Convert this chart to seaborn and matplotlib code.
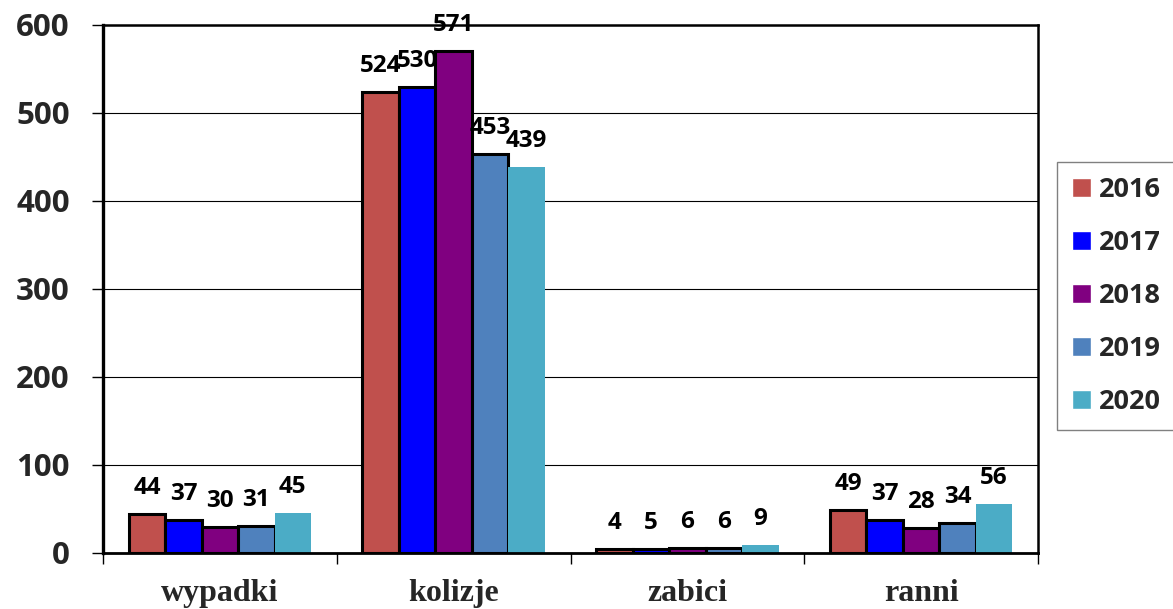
import matplotlib
matplotlib.use("Agg")
import matplotlib.pyplot as plt
import seaborn as sns
import pandas as pd

categories = ["wypadki", "kolizje", "zabici", "ranni"]
years = ["2016", "2017", "2018", "2019", "2020"]
v2016 = [44, 524, 4, 49]
v2017 = [37, 530, 5, 37]
v2018 = [30, 571, 6, 28]
v2019 = [31, 453, 6, 34]
v2020 = [45, 439, 9, 56]
yticks = [0, 100, 200, 300, 400, 500, 600]

colors = ["#C0504D", "#0000FF", "#800080", "#4F81BD", "#4BACC6"]

series = [v2016, v2017, v2018, v2019, v2020]
rows = []
for y, vals in zip(years, series):
    for c, v in zip(categories, vals):
        rows.append({"cat": c, "year": y, "val": v})
df = pd.DataFrame(rows)

sns.set_theme(style="white")
SANS = ["Open Sans", "DejaVu Sans"]
plt.rcParams["font.family"] = SANS

fig = plt.figure(figsize=(11.73, 6.09), dpi=100)
ax = fig.add_axes([103 / 1173, 1 - 553 / 609, (1038 - 103) / 1173, (553 - 25) / 609])

sns.barplot(data=df, x="cat", y="val", hue="year", order=categories, hue_order=years,
            palette=colors, width=0.78, gap=0, saturation=1, ax=ax, legend=True, errorbar=None)

for i, cont in enumerate(ax.containers):
    for p in cont.patches:
        if i < 4:
            p.set_edgecolor("black")
            p.set_linewidth(2.2)
        else:
            p.set_edgecolor("none")
            p.set_linewidth(0)
    for p, v in zip(cont.patches, series[i]):
        ax.annotate(str(v), (p.get_x() + p.get_width() / 2, p.get_height()),
                    xytext=(0, 14), textcoords="offset pixels", ha="center", va="bottom",
                    fontsize=17.5, fontweight="bold", family=SANS, color="black",
                    annotation_clip=False)

ax.set_ylim(0, 600)
ax.set_xlim(-0.5, 3.5)
ax.set_yticks(yticks)
ax.set_yticklabels([str(t) for t in yticks], fontsize=22.5, fontweight="bold", family=SANS)
ax.yaxis.grid(True, color="black", linewidth=0.8)
ax.set_axisbelow(True)
ax.tick_params(axis="y", direction="out", length=8, width=1, color="black", pad=16, left=True)

ax.set_xticks([-0.5, 0.5, 1.5, 2.5, 3.5])
ax.set_xticklabels([])
ax.set_xticks([0, 1, 2, 3], minor=True)
ax.set_xticklabels(categories, minor=True, fontsize=23, fontweight="bold",
                   family=["Liberation Serif", "DejaVu Serif"])
ax.tick_params(axis="x", which="major", direction="out", length=8, width=1, color="black", bottom=True)
ax.tick_params(axis="x", which="minor", length=0, pad=19)
ax.set_xlabel("")
ax.set_ylabel("")

for side, lw in [("left", 2.4), ("bottom", 2.0), ("top", 1.8), ("right", 1.8)]:
    ax.spines[side].set_visible(True)
    ax.spines[side].set_color("black")
    ax.spines[side].set_linewidth(lw)

handles, labels = ax.get_legend_handles_labels()
ax.legend_.remove()
leg = fig.legend(handles, labels, loc="upper left", bbox_to_anchor=(1057 / 1173, 1 - 162 / 609),
                 bbox_transform=fig.transFigure,
                 prop={"weight": "bold", "size": 19.5, "family": SANS},
                 frameon=True, fancybox=False, edgecolor="#808080", framealpha=1,
                 handlelength=0.7, handleheight=0.7, handletextpad=0.3, labelspacing=1.0,
                 borderpad=0.55, borderaxespad=0)
leg.get_frame().set_linewidth(1.0)

fig.savefig("out.png", dpi=100)
